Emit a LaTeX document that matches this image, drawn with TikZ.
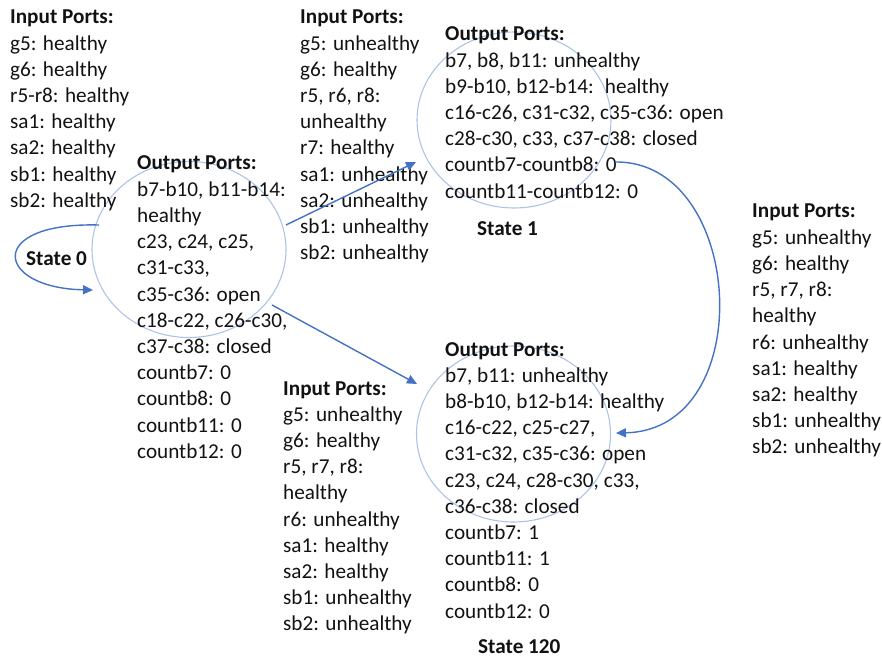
\documentclass[tikz,border=0pt]{standalone}
\usepackage{fontspec}
\setmainfont{Carlito}
\usetikzlibrary{arrows.meta,shapes.geometric}
\definecolor{ringblue}{RGB}{172,195,232}
\definecolor{arrowblue}{RGB}{68,114,196}
\definecolor{inktext}{RGB}{18,18,18}
% a left-aligned list whose reference point is the first baseline
\newcommand{\portlist}[1]{\begin{tabular}[t]{@{}l@{}}#1\end{tabular}}

\begin{document}
\begin{tikzpicture}[x=1pt,y=-1pt,
  txt/.style={anchor=base west, inner sep=0pt, font=\fontsize{21.2}{26.2}\selectfont, text=inktext},
  lbl/.style={anchor=base west, inner sep=0pt, font=\fontsize{21.2}{26.2}\selectfont\bfseries, text=inktext},
  statering/.style={ellipse, draw=ringblue, line width=1.1pt, minimum width=194pt, minimum height=176pt, inner sep=0pt},
  link/.style={draw=arrowblue, line width=1.4pt, -{Triangle[length=10pt,width=9pt]}}]

\useasboundingbox (0,0) rectangle (882,660);

% state rings
\node[statering] (s0)   at (189,249.5) {};
\node[statering] (s1)   at (514,120) {};
\node[statering] (s120) at (513.5,434) {};

% state 0: input and output ports
\node[txt] (in0) at (10,24) {\portlist{\textbf{Input Ports:}\\
  g5: healthy\\ g6: healthy\\ r5-r8: healthy\\ sa1: healthy\\ sa2: healthy\\
  sb1: healthy\\ sb2: healthy}};
\node[txt] (out0) at (137,170) {\portlist{\textbf{Output Ports:}\\
  b7-b10, b11-b14:\\ healthy\\ c23, c24, c25,\\ c31-c33,\\ c35-c36: open\\
  c18-c22, c26-c30,\\ c37-c38: closed\\ countb7: 0\\ countb8: 0\\ countb11: 0\\ countb12: 0}};
\node[lbl] (lab0) at (26,265) {State 0};

% state 1
\node[txt] (in1) at (300,24) {\portlist{\textbf{Input Ports:}\\
  g5: unhealthy\\ g6: healthy\\ r5, r6, r8:\\ unhealthy\\ r7: healthy\\
  sa1: unhealthy\\ sa2: unhealthy\\ sb1: unhealthy\\ sb2: unhealthy}};
\node[txt] (out1) at (445,41) {\portlist{\textbf{Output Ports:}\\
  b7, b8, b11: unhealthy\\ b9-b10, b12-b14: \ healthy\\
  c16-c26, c31-c32, c35-c36: open\\ c28-c30, c33, c37-c38: closed\\
  countb7-countb8: 0\\ countb11-countb12: 0}};
\node[lbl] (lab1) at (477,236) {State 1};

% state 120
\node[txt] (in120) at (283,395) {\portlist{\textbf{Input Ports:}\\
  g5: unhealthy\\ g6: healthy\\ r5, r7, r8:\\ healthy\\ r6: unhealthy\\
  sa1: healthy\\ sa2: healthy\\ sb1: unhealthy\\ sb2: unhealthy}};
\node[txt] (out120) at (445,356) {\portlist{\textbf{Output Ports:}\\
  b7, b11: unhealthy\\ b8-b10, b12-b14: healthy\\ c16-c22, c25-c27,\\
  c31-c32, c35-c36: open\\ c23, c24, c28-c30, c33,\\ c36-c38: closed\\
  countb7: 1\\ countb11: 1\\ countb8: 0\\ countb12: 0}};
\node[lbl] (lab120) at (478,653) {State 120};

% inputs for the transition 1 -> 120
\node[txt] (inR) at (752,218) {\portlist{\textbf{Input Ports:}\\
  g5: unhealthy\\ g6: healthy\\ r5, r7, r8:\\ healthy\\ r6: unhealthy\\
  sa1: healthy\\ sa2: healthy\\ sb1: unhealthy\\ sb2: unhealthy}};

% arrow end points
\coordinate (loopA) at (99,225);
\coordinate (loopB) at (93,290);
\coordinate (t01a) at (286,225);
\coordinate (t01b) at (416,162);
\coordinate (t02a) at (272,305);
\coordinate (t02b) at (417,384);
\coordinate (t12a) at (615,162);
\coordinate (t12b) at (616,433);

% transitions
\draw[link] (loopA) .. controls (-15,222) and (-5,288) .. (loopB);
\draw[link] (t01a) -- (t01b);
\draw[link] (t02a) -- (t02b);
\draw[link] (t12a) .. controls (745,160) and (760,430) .. (t12b);
\end{tikzpicture}
\end{document}
